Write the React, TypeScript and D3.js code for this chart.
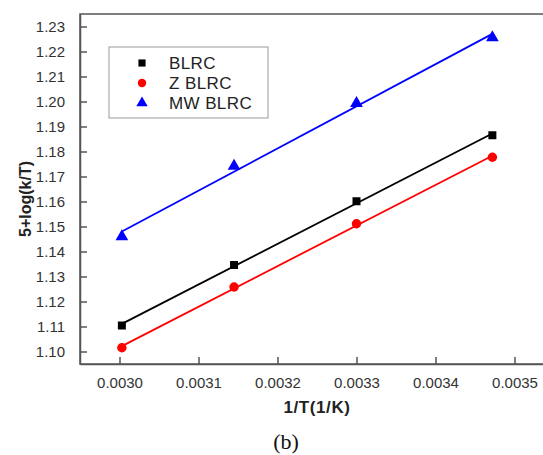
import React, {useEffect, useRef} from 'react';
import * as d3 from 'd3';

const xValues = [0.003003, 0.003145, 0.0033, 0.003472];
const blrc = [1.1104, 1.1346, 1.1601, 1.1865];
const zBlrc = [1.1015, 1.1258, 1.1511, 1.1777];
const mwBlrc = [1.1460, 1.1742, 1.1993, 1.2256];
const seriesNames = ['BLRC', 'Z BLRC', 'MW BLRC'];
const xTicks = [0.0030, 0.0031, 0.0032, 0.0033, 0.0034, 0.0035];
const yTicks = [1.10, 1.11, 1.12, 1.13, 1.14, 1.15, 1.16, 1.17, 1.18, 1.19, 1.20, 1.21, 1.22, 1.23];

const W = 543;
const H = 455;
const margin = {top: 14, right: -11, bottom: 91, left: 80};
const font = '"Liberation Sans", Arial, sans-serif';

// least squares line through one series
function fit(ys: number[]) {
  const mx = d3.mean(xValues)!;
  const my = d3.mean(ys)!;
  const sxy = d3.sum(xValues, (x, i) => (x - mx) * (ys[i] - my));
  const sxx = d3.sum(xValues, x => (x - mx) * (x - mx));
  const b = sxy / sxx;
  return (x: number) => my + b * (x - mx);
}

function App() {
  const chartRef = useRef<SVGSVGElement>(null);

  useEffect(() => {
    const svg = d3.select(chartRef.current);
    svg.selectAll('*').remove();

    const x = d3.scaleLinear().domain([0.00295, 0.00355]).range([margin.left, W - margin.right]);
    const y = d3.scaleLinear().domain([1.095, 1.235]).range([H - margin.bottom, margin.top]);

    const series = [
      {name: seriesNames[0], values: blrc, color: '#000000', symbol: d3.symbolSquare, size: 64},
      {name: seriesNames[1], values: zBlrc, color: '#ff0000', symbol: d3.symbolCircle, size: 70},
      {name: seriesNames[2], values: mwBlrc, color: '#0000ff', symbol: d3.symbolTriangle, size: 70},
    ];

    // frame
    svg.append('rect')
      .attr('x', x.range()[0])
      .attr('y', y.range()[1])
      .attr('width', x.range()[1] - x.range()[0])
      .attr('height', y.range()[0] - y.range()[1])
      .attr('fill', 'none')
      .attr('stroke', '#555')
      .attr('stroke-width', 1.5);

    const xAxis = svg.append('g')
      .attr('transform', `translate(0, ${y.range()[0]})`)
      .call(d3.axisBottom(x).tickValues(xTicks).tickSizeInner(-7).tickSizeOuter(0).tickPadding(13).tickFormat(d3.format('.4f')));
    const yAxis = svg.append('g')
      .attr('transform', `translate(${x.range()[0]}, 0)`)
      .call(d3.axisLeft(y).tickValues(yTicks).tickSizeInner(-7).tickSizeOuter(0).tickPadding(15).tickFormat(d3.format('.2f')));

    [xAxis, yAxis].forEach(g => {
      g.select('.domain').attr('stroke', '#555').attr('stroke-width', 1.5);
      g.selectAll('.tick line').attr('stroke', '#555').attr('stroke-width', 1.5);
      g.selectAll('.tick text')
        .attr('fill', '#333')
        .style('font-family', font)
        .style('font-size', '15px');
    });

    svg.append('text')
      .attr('x', (x.range()[0] + x.range()[1]) / 2)
      .attr('y', 413)
      .attr('text-anchor', 'middle')
      .style('font-family', font)
      .style('font-size', '17px')
      .style('font-weight', 'bold')
      .style('letter-spacing', '0.6px')
      .attr('fill', '#222')
      .text('1/T(1/K)');

    svg.append('text')
      .attr('transform', 'translate(31, 199) rotate(-90)')
      .attr('text-anchor', 'middle')
      .style('font-family', font)
      .style('font-size', '16px')
      .style('font-weight', 'bold')
      .attr('fill', '#222')
      .text('5+log(k/T)');

    const x0 = d3.min(xValues)!;
    const x1 = d3.max(xValues)!;
    series.forEach(s => {
      const f = fit(s.values);
      svg.append('line')
        .attr('x1', x(x0)).attr('y1', y(f(x0)))
        .attr('x2', x(x1)).attr('y2', y(f(x1)))
        .attr('stroke', s.color)
        .attr('stroke-width', 1.8);

      svg.append('g')
        .selectAll('path')
        .data(s.values)
        .enter()
        .append('path')
        .attr('transform', (d, i) => `translate(${x(xValues[i])}, ${y(d)})`)
        .attr('d', d3.symbol(s.symbol, s.size)())
        .attr('fill', s.color);
    });

    // legend
    const legend = svg.append('g');
    legend.append('rect')
      .attr('x', 109).attr('y', 47)
      .attr('width', 159).attr('height', 71)
      .attr('fill', 'white')
      .attr('stroke', '#999')
      .attr('stroke-width', 1);
    series.forEach((s, i) => {
      legend.append('path')
        .attr('transform', `translate(142, ${63 + i * 20})`)
        .attr('d', d3.symbol(s.symbol, s.size * 0.8)())
        .attr('fill', s.color);
      legend.append('text')
        .attr('x', 169)
        .attr('y', 63 + i * 20 + 6)
        .style('font-family', font)
        .style('font-size', '17px')
        .style('letter-spacing', '0.4px')
        .attr('fill', '#222')
        .text(s.name);
    });

    svg.append('text')
      .attr('x', 286)
      .attr('y', 449)
      .attr('text-anchor', 'middle')
      .style('font-family', '"Liberation Serif", "Times New Roman", serif')
      .style('font-size', '22px')
      .attr('fill', '#111')
      .text('(b)');
  });

  return (
    <svg ref={chartRef} width={W} height={H} viewBox={`0 0 ${W} ${H}`}
         style={{position: 'absolute', left: 0, top: 0, background: 'white'}}/>
  );
}

export default App;
